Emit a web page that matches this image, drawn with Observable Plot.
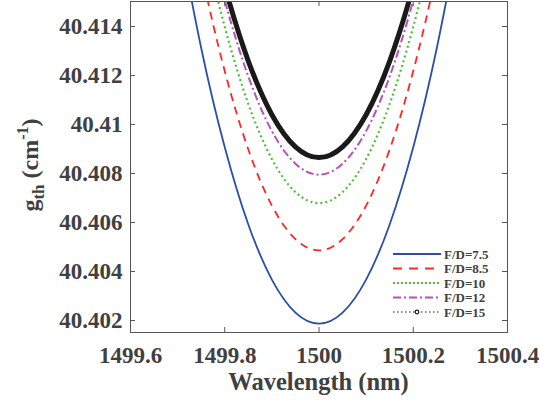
<!DOCTYPE html>
<html><head><meta charset="utf-8">
<script src="https://cdn.jsdelivr.net/npm/d3@7"></script>
<script src="https://cdn.jsdelivr.net/npm/@observablehq/plot@0.6"></script>
<style>body{margin:0;background:#fff}</style>
</head><body><div id="chart"></div>
<script>
const wavelength = [1499.70,1499.75,1499.80,1499.85,1499.90,1499.95,1500.00,1500.05,1500.10,1500.15,1500.20,1500.25,1500.30];
const fd75  = [40.41807,40.41312,40.40907,40.40592,40.40367,40.40232,40.40187,40.40232,40.40367,40.40592,40.40907,40.41312,40.41807];
const fd85  = [40.42133,40.41630,40.41218,40.40898,40.40669,40.40532,40.40486,40.40532,40.40669,40.40898,40.41218,40.41630,40.42133];
const fd10  = [40.42299,40.41804,40.41399,40.41084,40.40859,40.40724,40.40679,40.40724,40.40859,40.41084,40.41399,40.41804,40.42299];
const fd12  = [40.42397,40.41908,40.41507,40.41196,40.40973,40.40840,40.40795,40.40840,40.40973,40.41196,40.41507,40.41908,40.42397];
const fd15  = [40.42440,40.41959,40.41565,40.41259,40.41040,40.40909,40.40865,40.40909,40.41040,40.41259,40.41565,40.41959,40.42440];
const seriesNames = ["F/D=7.5","F/D=8.5","F/D=10","F/D=12","F/D=15"];
const xTicks = [1499.6,1499.8,1500,1500.2,1500.4];
const yTicks = [40.402,40.404,40.406,40.408,40.41,40.412,40.414];

const styles = [
  {stroke:"#2b4fa8", strokeWidth:1.8, dash:null},
  {stroke:"#ff2626", strokeWidth:1.8, dash:"8,6"},
  {stroke:"#4fbf3a", strokeWidth:2.2, dash:"2,3"},
  {stroke:"#b552b5", strokeWidth:2, dash:"8,3,2,3"},
  {stroke:"#1a1a1a", strokeWidth:5, dash:null}
];
const allSeries = [fd75, fd85, fd10, fd12, fd15];
const rows = [];
allSeries.forEach((vals, i) => vals.forEach((v, j) => rows.push({x: wavelength[j], y: v, s: seriesNames[i]})));

const W = 540, H = 400, mL = 130, mR = 33, mT = 1, mB = 68;
const plotW = W - mL - mR, plotH = H - mT - mB;
const fmt = d => String(+d.toFixed(4));
const textColor = "#404040";
const font = "'Liberation Serif', 'Times New Roman', serif";

const lineMarks = seriesNames.map((name, i) => Plot.line(rows.filter(r => r.s === name), {
  x: "x", y: "y", curve: "natural", clip: true,
  stroke: styles[i].stroke, strokeWidth: styles[i].strokeWidth,
  strokeDasharray: styles[i].dash, strokeLinecap: "butt"
}));

const chart = Plot.plot({
  width: W, height: H,
  marginLeft: mL, marginRight: mR, marginTop: mT, marginBottom: mB,
  style: {fontFamily: font, fontWeight: "bold", color: textColor, background: "#fff"},
  x: {domain: [1499.6, 1500.4]},
  y: {domain: [40.40151, 40.41502]},
  marks: [
    ...lineMarks,
    Plot.tickY(yTicks, {y: d => d, insetRight: plotW - 5, stroke: "#555"}),
    Plot.tickY(yTicks, {y: d => d, insetLeft: plotW - 5, stroke: "#555"}),
    Plot.tickX(xTicks, {x: d => d, insetTop: plotH - 5, stroke: "#555"}),
    Plot.tickX(xTicks, {x: d => d, insetBottom: plotH - 5, stroke: "#555"}),
    Plot.axisY(yTicks, {tickSize: 0, tickPadding: 8, tickFormat: fmt, fontSize: 23, fontWeight: "bold", fill: textColor, label: null}),
    Plot.axisX(xTicks, {tickSize: 0, tickPadding: 14, tickFormat: fmt, fontSize: 23, fontWeight: "bold", fill: textColor, label: null}),
    Plot.frame({stroke: "#555", strokeWidth: 1})
  ]
});
document.getElementById("chart").appendChild(chart);

const svg = d3.select(chart);
// x label
svg.append("text").attr("x", mL + plotW / 2).attr("y", 390)
  .attr("text-anchor", "middle").attr("font-family", font).attr("font-weight", "bold")
  .attr("font-size", 24.5).attr("fill", textColor).text("Wavelength (nm)");
// y label
const yl = svg.append("text").attr("transform", "translate(38,165) rotate(-90)")
  .attr("text-anchor", "middle").attr("font-family", font).attr("font-weight", "bold")
  .attr("font-size", 24).attr("fill", textColor);
yl.append("tspan").text("g");
yl.append("tspan").attr("font-size", 17).attr("dy", 6).text("th");
yl.append("tspan").attr("dy", -6).text(" (cm");
yl.append("tspan").attr("font-size", 16).attr("dy", -10).text("-1");
yl.append("tspan").attr("dy", 10).text(")");

// legend
const ly = [254, 268.5, 283, 297.5, 312];
const legStyles = [
  {stroke:"#2b4fa8", w:2, dash:null},
  {stroke:"#ff2626", w:2, dash:"9,7"},
  {stroke:"#4fbf3a", w:2, dash:"2,2"},
  {stroke:"#b552b5", w:2, dash:"8,3,2,3"},
  {stroke:"#1a1a1a", w:1, dash:"1.5,2.5"}
];
const leg = svg.append("g");
seriesNames.forEach((name, i) => {
  const s = legStyles[i];
  leg.append("line").attr("x1", 393).attr("x2", 441).attr("y1", ly[i]).attr("y2", ly[i])
    .attr("stroke", s.stroke).attr("stroke-width", s.w).attr("stroke-dasharray", s.dash);
  if (i === 4) leg.append("circle").attr("cx", 417).attr("cy", ly[i]).attr("r", 1.8)
    .attr("fill", "#fff").attr("stroke", "#1a1a1a").attr("stroke-width", 1.2);
  leg.append("text").attr("x", 444).attr("y", ly[i]).attr("dy", "0.35em")
    .attr("text-anchor", "start")
    .attr("font-family", font).attr("font-weight", "bold").attr("font-size", 13)
    .attr("fill", textColor).text(name);
});
</script></body></html>
